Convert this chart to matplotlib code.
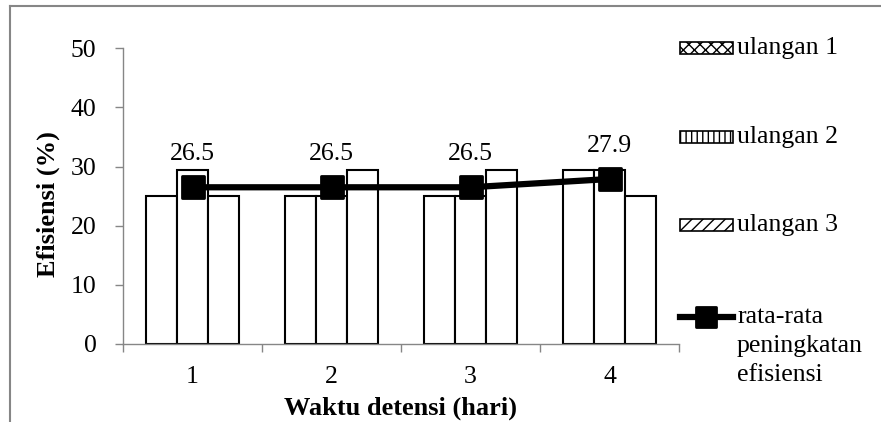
import numpy as np
import matplotlib
matplotlib.use("Agg")
import matplotlib.pyplot as plt
from matplotlib.patches import Rectangle
from matplotlib.lines import Line2D
from matplotlib.markers import MarkerStyle

plt.rcParams['font.family'] = ['Liberation Serif', 'DejaVu Serif']
plt.rcParams['hatch.linewidth'] = 1.0

# data
days = ['1', '2', '3', '4']
ulangan1 = [25, 25, 25, 29.4]
ulangan2 = [29.4, 25, 25, 29.4]
ulangan3 = [25, 29.4, 29.4, 25]
rata_rata = [26.5, 26.5, 26.5, 27.9]
labels = ['ulangan 1', 'ulangan 2', 'ulangan 3']
hatches = ['xxx', '|||', '///']

FS = 18.5
W, H = 881, 422
fig = plt.figure(figsize=(W / 100, H / 100), dpi=100)


def fx(px):
    return px / W


def fy(py):
    return 1 - py / H


ax = fig.add_axes([fx(123), fy(344), fx(679) - fx(123), fy(48.3) - fy(344)])

x = np.arange(len(days))
bw = 1 / 4.5
for i, vals in enumerate([ulangan1, ulangan2, ulangan3]):
    ax.bar(x + (i - 1) * bw, vals, bw, color='white', edgecolor='black',
           linewidth=1.5, zorder=2)

ms = MarkerStyle('s', joinstyle='round')
ax.plot(x, rata_rata, color='black', lw=4.5, marker=ms, ms=16.5, mfc='black',
        mec='black', mew=2, zorder=3)
for xi, v in zip(x, rata_rata):
    ax.annotate(f'{v:.1f}', (xi, v), xytext=(0, 33), textcoords='offset pixels',
                ha='center', va='center', fontsize=FS)

ax.set_xlim(-0.5, len(days) - 0.5)
ax.set_ylim(0, 50)
ax.set_yticks(range(0, 51, 10))
ax.set_xticks(x)
ax.set_xticklabels(days)
ax.set_xticks(np.arange(len(days) + 1) - 0.5, minor=True)
ax.tick_params(axis='x', which='major', length=0, pad=16, labelsize=FS)
ax.tick_params(axis='x', which='minor', length=6, width=1, color='#868686')
ax.tick_params(axis='y', length=6, width=1, color='#868686', pad=13, labelsize=FS)
for s in ['top', 'right']:
    ax.spines[s].set_visible(False)
for s in ['left', 'bottom']:
    ax.spines[s].set_color('#868686')
    ax.spines[s].set_linewidth(1)

fig.text(fx(48), fy(204), 'Efisiensi (%)', rotation=90, ha='center', va='center',
         fontsize=19, fontweight='bold')
fig.text(fx(401), fy(408), 'Waktu detensi (hari)', ha='center', va='center',
         fontsize=19, fontweight='bold')

# legend drawn by hand to follow the original layout
for lab, hat, cy in zip(labels, hatches, [48, 137, 225]):
    fig.add_artist(Rectangle((fx(680), fy(cy + 6)), fx(733) - fx(680), fy(cy - 6) - fy(cy + 6),
                             transform=fig.transFigure, facecolor='white',
                             edgecolor='black', hatch=hat, lw=1.2))
    fig.text(fx(737), fy(cy), lab, ha='left', va='center', fontsize=FS)

fig.add_artist(Line2D([fx(680), fx(733)], [fy(317), fy(317)], transform=fig.transFigure,
                      color='black', lw=4.5))
fig.add_artist(Line2D([fx(706)], [fy(317)], transform=fig.transFigure, marker=ms,
                      ms=15, mfc='black', mec='black', mew=2))
fig.text(fx(737), fy(306), 'rata-rata\npeningkatan\nefisiensi', ha='left', va='top',
         fontsize=FS, linespacing=1.4)

# outer frame (top and left only visible)
fig.add_artist(Line2D([fx(10), 1], [fy(6), fy(6)], transform=fig.transFigure,
                      color='#868686', lw=1.5))
fig.add_artist(Line2D([fx(10), fx(10)], [fy(6), 0], transform=fig.transFigure,
                      color='#868686', lw=1.5))

fig.savefig('out.png', dpi=100)
